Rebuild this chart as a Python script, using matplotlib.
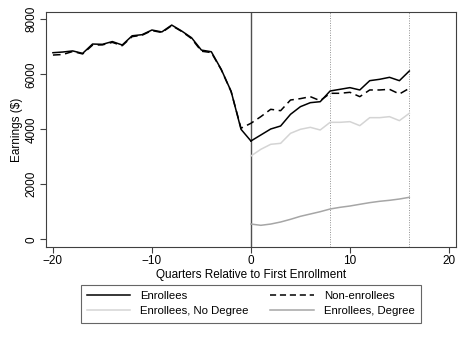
import matplotlib
matplotlib.use("Agg")
import matplotlib.pyplot as plt
import numpy as np

plt.rcParams['font.family'] = ['Liberation Sans', 'DejaVu Sans']

# quarters relative to first enrollment
pre_q = list(range(-20, 1))
post_q = list(range(0, 17))

# pre-period earnings (both groups)
enroll_pre = [6785, 6810, 6850, 6760, 7100, 7090, 7190, 7065, 7400, 7440,
              7610, 7540, 7790, 7575, 7330, 6880, 6820, 6180, 5380, 4000, 3575]
nonenroll_pre = [6700, 6720, 6830, 6740, 7060, 7070, 7160, 7040, 7370, 7420,
                 7590, 7520, 7770, 7560, 7300, 6840, 6790, 6170, 5370, 4040]
nonenroll_pre_q = list(range(-20, 0))

# post-period earnings
enroll_post = [3575, 3793, 4011, 4120, 4545, 4823, 4968, 5004, 5393, 5454,
               5515, 5430, 5768, 5818, 5890, 5768, 6120]
nonenroll_post = [4218, 4460, 4727, 4677, 5065, 5115, 5187, 5040, 5309, 5309,
                  5345, 5187, 5430, 5430, 5454, 5284, 5490]
no_degree = [3029, 3272, 3454, 3490, 3854, 4000, 4072, 3975, 4254, 4254,
             4278, 4133, 4423, 4423, 4460, 4315, 4581]
degree = [555, 509, 555, 629, 727, 836, 920, 1004, 1102, 1163,
          1211, 1273, 1333, 1382, 1418, 1465, 1527]

fig = plt.figure(figsize=(4.68, 3.4), dpi=100)
ax = fig.add_axes([0.0983, 0.2735, 0.8757, 0.6912])

# reference lines
ax.axvline(0, color='#505050', lw=1.0, zorder=1)
for q in [8, 16]:
    ax.axvline(q, color='#909090', lw=0.7, ls=(0, (1, 1.5)), zorder=1)

ax.plot(pre_q, enroll_pre, color='black', lw=1.1, zorder=3)
ax.plot(nonenroll_pre_q + post_q, nonenroll_pre + nonenroll_post,
        color='black', lw=1.1, ls=(0, (5, 3)), zorder=3)
l_enr, = ax.plot(post_q, enroll_post, color='black', lw=1.1, zorder=3)
l_non, = ax.plot([], [], color='black', lw=1.1, ls=(0, (4, 2.5)))
l_nd, = ax.plot(post_q, no_degree, color='#d4d4d4', lw=1.1, zorder=2)
l_d, = ax.plot(post_q, degree, color='#a6a6a6', lw=1.1, zorder=2)

ax.set_xlim(-20.7, 20.7)
ax.set_ylim(-280, 8265)
ax.set_xticks([-20, -10, 0, 10, 20])
ax.set_yticks([0, 2000, 4000, 6000, 8000])
ax.set_yticklabels(['0', '2000', '4000', '6000', '8000'], rotation=90, va='center')
ax.tick_params(labelsize=8.5, length=4, width=0.8, color='#404040', pad=2)
for s in ax.spines.values():
    s.set_color('#404040')
    s.set_linewidth(0.8)

ax.set_xlabel('Quarters Relative to First Enrollment', fontsize=8.5, labelpad=1)
ax.set_ylabel('Earnings ($)', fontsize=8.5, labelpad=2)

# matplotlib fills legend column-wise, so order entries to read row-wise
leg = fig.legend([l_enr, l_nd, l_non, l_d],
                 ['Enrollees', 'Enrollees, No Degree', 'Non-enrollees', 'Enrollees, Degree'],
                 ncol=2, loc='center', bbox_to_anchor=(0.536, 0.107),
                 fontsize=8.2, frameon=True, fancybox=False, handlelength=3.8,
                 columnspacing=1.9, handletextpad=0.9, borderpad=0.55, labelspacing=0.5)
leg.get_frame().set_edgecolor('#404040')
leg.get_frame().set_linewidth(0.8)

fig.savefig('out.png', dpi=100)
